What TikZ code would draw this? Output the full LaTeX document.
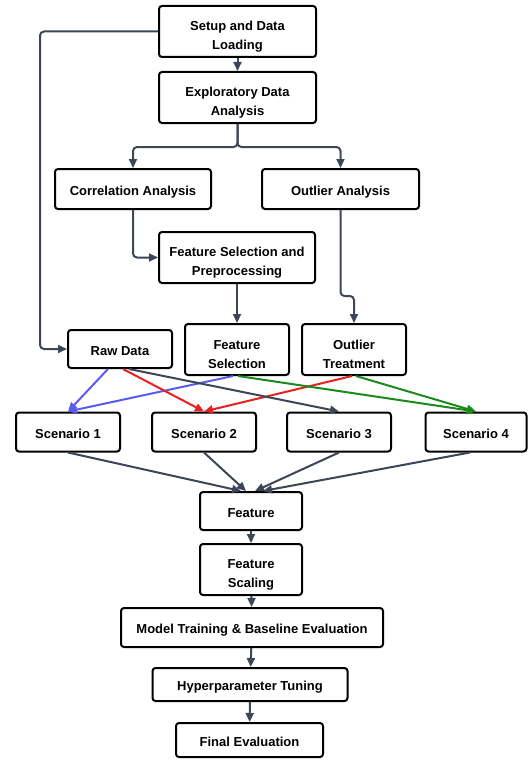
\documentclass[tikz,border=0pt]{standalone}
\usepackage{fontspec}
\setmainfont{Liberation Sans}
\usetikzlibrary{arrows.meta,positioning}
\definecolor{flowline}{HTML}{3D4654}
\definecolor{rawblue}{HTML}{5B5BF0}
\definecolor{rawred}{HTML}{E8201E}
\definecolor{rawgreen}{HTML}{1A8A1A}

\begin{document}
\begin{tikzpicture}[x=1pt, y=-1pt, >={Triangle[length=9pt,width=8pt]},
    stage/.style={draw, line width=2pt, rounded corners=3pt, fill=white, align=center, inner sep=2pt,
      font=\bfseries\fontsize{13}{19}\selectfont},
    oneline/.style={stage, text height=15pt, text depth=3pt},
    twoline/.style={stage, text height=38pt},
    flow/.style={->, draw=flowline, line width=2pt, rounded corners=4pt}]
    \useasboundingbox (0,0) rectangle (529,760);
    % Nodes (preparation and analysis)
    \node[twoline, minimum width=157pt, minimum height=51pt] (setup) at (237.5,31.5) {Setup and Data\\Loading};
    \node[twoline, minimum width=157pt, minimum height=51pt] (eda) at (237.5,97.5) {Exploratory Data\\Analysis};
    \node[oneline, minimum width=156pt, minimum height=40pt] (corr) at (133,189) {Correlation Analysis};
    \node[oneline, minimum width=157pt, minimum height=40pt] (outl) at (340.5,189) {Outlier Analysis};
    \node[twoline, minimum width=156pt, minimum height=51pt] (fsp) at (237,257.5) {Feature Selection and\\Preprocessing};
    \node[oneline, minimum width=104pt, minimum height=38pt] (raw) at (120,349) {Raw Data};
    \node[twoline, minimum width=104pt, minimum height=51pt] (fs) at (237,349.5) {Feature\\Selection};
    \node[twoline, minimum width=104pt, minimum height=51pt] (ot) at (354,349.5) {Outlier\\Treatment};
    % Nodes (scenarios and modelling)
    \node[oneline, minimum width=104pt, minimum height=39pt] (s1) at (68,432) {Scenario 1};
    \node[oneline, minimum width=104pt, minimum height=39pt] (s2) at (204,432) {Scenario 2};
    \node[oneline, minimum width=104pt, minimum height=39pt] (s3) at (339,432) {Scenario 3};
    \node[oneline, minimum width=101pt, minimum height=39pt] (s4) at (476,432) {Scenario 4};
    \node[oneline, minimum width=102pt, minimum height=38pt] (feat) at (251,511) {Feature};
    \node[twoline, minimum width=102pt, minimum height=51pt] (fscale) at (251,569.5) {Feature\\Scaling};
    \node[oneline, minimum width=262pt, minimum height=39pt] (model) at (252,627.5) {Model Training \& Baseline Evaluation};
    \node[oneline, minimum width=195pt, minimum height=33pt] (hyper) at (250,684.5) {Hyperparameter Tuning};
    \node[oneline, minimum width=147pt, minimum height=34pt] (final) at (249.5,740) {Final Evaluation};
    % Arrows (upper part)
    \draw[flow] (setup) -- (eda);
    \draw[flow] (setup.west) -- ++(-118,0) |- (raw.west);
    \draw[flow] (eda.south) -- ++(0,23) -| (corr.north);
    \draw[flow] (eda.south) -- ++(0,23) -| (outl.north);
    \draw[flow] (corr.south) |- (fsp.west);
    \draw[flow] (fsp) -- (fs);
    \draw[flow] (outl.south) -- ++(0,86) -| (ot.north);
    % Arrows into the scenarios
    \draw[flow, draw=rawblue] ([xshift=-12pt]raw.south) -- (s1.north);
    \draw[flow, draw=rawblue] ([xshift=-4pt]fs.south) -- (s1.north);
    \draw[flow, draw=rawred] ([xshift=3pt]raw.south) -- (s2.north);
    \draw[flow, draw=rawred] ([xshift=-2pt]ot.south) -- (s2.north);
    \draw[flow] ([xshift=9pt]raw.south) -- (s3.north);
    \draw[flow, draw=rawgreen] ([xshift=1pt]fs.south) -- (s4.north);
    \draw[flow, draw=rawgreen] ([xshift=2pt]ot.south) -- (s4.north);
    % Arrows (lower part)
    \draw[flow] (s1.south) -- ([xshift=-10pt]feat.north);
    \draw[flow] (s2.south) -- ([xshift=-5pt]feat.north);
    \draw[flow] (s3.south) -- ([xshift=4pt]feat.north);
    \draw[flow] ([xshift=-6pt]s4.south) -- ([xshift=12pt]feat.north);
    \draw[flow] (feat) -- (fscale);
    \draw[flow] (fscale) -- (model);
    \draw[flow] (model) -- (hyper);
    \draw[flow] (hyper) -- (final);
\end{tikzpicture}
\end{document}
